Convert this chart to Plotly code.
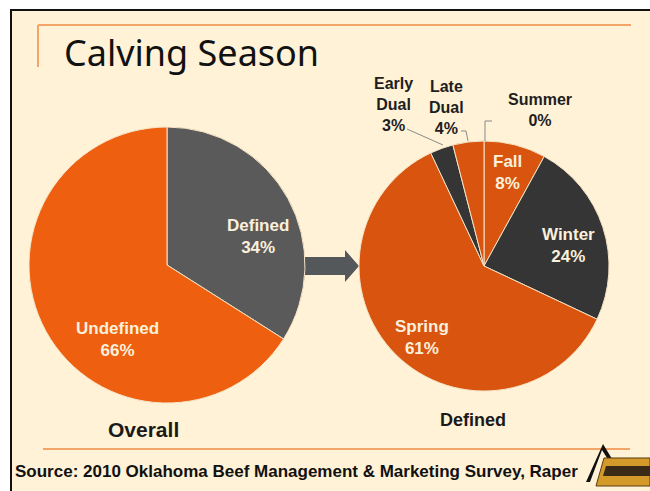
import plotly.graph_objects as go

W, H = 650, 491

# ---- data ----
overall_labels = ["Defined", "Undefined"]
overall_values = [34, 66]
defined_labels = ["Summer", "Fall", "Winter", "Spring", "Early Dual", "Late Dual"]
defined_values = [0, 8, 24, 61, 3, 4]

title_text = "Calving Season"
overall_caption = "Overall"
defined_caption = "Defined"
source_text = "Source: 2010 Oklahoma Beef Management & Marketing Survey, Raper"

# ---- styles ----
BG = "#FFF2D6"
ORANGE_L = "#EE600F"
GRAY_L = "#5A5A5A"
ORANGE_R = "#D8540F"
DARK_R = "#353535"
LINE_OR = "#F2A566"
LABEL_IN = "#FBF0DC"
LABEL_OUT = "#1E1E1E"

def px(x):
    return x / W

def py(y):
    return 1 - y / H

fig = go.Figure()

# left pie: center (167,265) r 138
fig.add_trace(go.Pie(
    labels=overall_labels, values=overall_values, sort=False, direction="clockwise",
    rotation=0, textinfo="none", hoverinfo="label+percent",
    marker=dict(colors=[GRAY_L, ORANGE_L], line=dict(color="#F6E3C6", width=1)),
    domain=dict(x=[px(29), px(305)], y=[py(403), py(127)]),
    showlegend=False,
))

# right pie: center (484,266) r 125
fig.add_trace(go.Pie(
    labels=defined_labels, values=defined_values, sort=False, direction="clockwise",
    rotation=0, textinfo="none", hoverinfo="label+percent",
    marker=dict(colors=[ORANGE_R, ORANGE_R, DARK_R, ORANGE_R, DARK_R, ORANGE_R],
                line=dict(color="#F6E3C6", width=1)),
    domain=dict(x=[px(359), px(609)], y=[py(391), py(141)]),
    showlegend=False,
))

shapes = []
# slide background with black frame (top / left visible)
shapes.append(dict(type="rect", xref="paper", yref="paper", x0=px(11), y0=py(H + 20),
                   x1=px(W + 20), y1=py(10), fillcolor=BG, line=dict(color="#111111", width=2),
                   layer="below"))
# orange title rules
shapes.append(dict(type="line", xref="paper", yref="paper", x0=px(38), y0=py(25),
                   x1=px(631), y1=py(25), line=dict(color=LINE_OR, width=2), layer="below"))
shapes.append(dict(type="line", xref="paper", yref="paper", x0=px(38), y0=py(25),
                   x1=px(38), y1=py(67), line=dict(color=LINE_OR, width=2), layer="below"))
# bottom orange rule
shapes.append(dict(type="line", xref="paper", yref="paper", x0=px(43), y0=py(449),
                   x1=px(630), y1=py(449), line=dict(color=LINE_OR, width=2), layer="below"))

def pth(points):
    return "M " + " L ".join(f"{px(x):.5f},{py(y):.5f}" for x, y in points) + " Z"

def polyline(points):
    return "M " + " L ".join(f"{px(x):.5f},{py(y):.5f}" for x, y in points)

# block arrow
shapes.append(dict(type="path", xref="paper", yref="paper",
                   path=pth([(300, 257), (345, 257), (345, 250), (359, 266), (345, 282), (345, 275), (300, 275)]),
                   fillcolor="#54585B", line=dict(width=0), layer="below"))

# leader lines
LEAD = "#8A8A8A"
shapes.append(dict(type="path", xref="paper", yref="paper", path=polyline([(407, 129), (443, 145)]),
                   line=dict(color=LEAD, width=1)))
shapes.append(dict(type="path", xref="paper", yref="paper", path=polyline([(461, 131), (466, 131), (468, 141)]),
                   line=dict(color=LEAD, width=1)))
shapes.append(dict(type="path", xref="paper", yref="paper", path=polyline([(492, 121), (485, 121), (485, 141)]),
                   line=dict(color=LEAD, width=1)))

# small logo approximation (bottom right)
shapes.append(dict(type="path", xref="paper", yref="paper",
                   path=pth([(603, 444), (620, 472), (616, 472), (602, 450), (590, 482), (586, 482)]),
                   fillcolor="#111111", line=dict(width=0)))
shapes.append(dict(type="path", xref="paper", yref="paper",
                   path=pth([(604, 458), (650, 458), (650, 486), (596, 486)]),
                   fillcolor="#D39A2A", line=dict(color="#5A3A10", width=1)))
shapes.append(dict(type="path", xref="paper", yref="paper",
                   path=pth([(606, 466), (650, 466), (650, 476), (603, 476)]),
                   fillcolor="#3A2A18", line=dict(width=0)))

annotations = []
def ann(x, y, text, size, color, bold=True, family="Liberation Sans, Arial, sans-serif", xanchor="center"):
    annotations.append(dict(xref="paper", yref="paper", x=px(x), y=py(y), text=f"<b>{text}</b>" if bold else text,
                            showarrow=False, xanchor=xanchor, yanchor="middle",
                            font=dict(size=size, color=color, family=family)))

# inside labels
inside_pos_left = {"Defined": (258, 236), "Undefined": (117, 339)}
for lab, val in zip(overall_labels, overall_values):
    x, y = inside_pos_left[lab]
    ann(x, y, f"{lab}<br>{val}%", 17, LABEL_IN)

inside_pos_right = {"Fall": (507, 172), "Winter": (568, 246), "Spring": (422, 337)}
outside_pos_right = {"Early Dual": (393, 104), "Late Dual": (446, 107), "Summer": (540, 110)}
for lab, val in zip(defined_labels, defined_values):
    if lab in inside_pos_right:
        x, y = inside_pos_right[lab]
        ann(x, y, f"{lab}<br>{val}%", 17, LABEL_IN)
    else:
        x, y = outside_pos_right[lab]
        txt = lab.replace(" ", "<br>")
        ann(x, y, f"{txt}<br>{val}%", 16, LABEL_OUT)

# title and captions
ann(62, 52, title_text, 36, "#111111", bold=False,
    family="Comic Sans MS, Noto Sans, DejaVu Sans, sans-serif", xanchor="left")
ann(143, 429, overall_caption, 21, "#1A1A1A")
ann(473, 420, defined_caption, 18, "#1A1A1A")
ann(13, 471, source_text, 17, "#111111", xanchor="left")

fig.update_layout(
    width=W, height=H, margin=dict(l=0, r=0, t=0, b=0),
    paper_bgcolor="white", plot_bgcolor="white",
    shapes=shapes, annotations=annotations, showlegend=False,
)

fig.write_html("out.html", config={"displayModeBar": False},
               post_script="document.body.style.margin='0';document.body.style.overflow='hidden';")
